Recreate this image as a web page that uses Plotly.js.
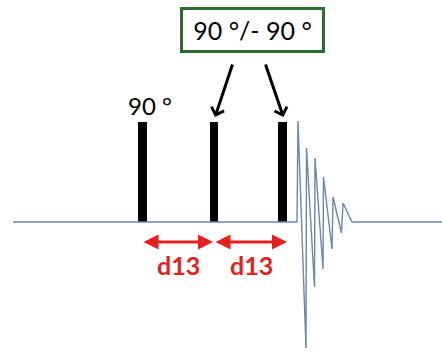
<!DOCTYPE html>
<html>
<head>
<meta charset="utf-8">
<script src="https://cdn.plot.ly/plotly-3.0.1.min.js"></script>
<style>html,body{margin:0;padding:0;background:#fff;}#chart{width:442px;height:353px;}</style>
</head>
<body>
<div id="chart"></div>
<script>
// Pulse sequence data (time in arbitrary units, amplitude normalised)
const pulseTimes = [142.5, 214, 282.5];
const pulseAmps = [1.0, 1.0, 1.0];
const pulseLabels = ["90 °", "90 °/- 90 °"];

// Baseline + FID signal
const timeAxis = [13, 297, 298, 306, 306.5, 314.5, 315, 323, 323.5, 332, 333, 341.5, 343, 352, 442];
const signal   = [0, 0, 1.01, -1.26, 0.74, -0.65, 0.64, -0.47, 0.45, -0.27, 0.25, -0.11, 0.19, 0, 0];

// Delays
const delayStarts = [142, 214];
const delayEnds = [213, 287];
const delayLabels = ["d13", "d13"];

const red = '#e4211c';
const font = 'Lato, "Open Sans", sans-serif';

const traces = [
  {
    type: 'scatter', mode: 'lines', x: timeAxis, y: signal,
    line: {color: '#6c88ab', width: 1.4}, hoverinfo: 'skip'
  },
  {
    type: 'bar', x: pulseTimes, y: pulseAmps, width: 8.5,
    marker: {color: '#000000', line: {width: 0}}, hoverinfo: 'skip'
  }
];

const annotations = [];
// first pulse label
annotations.push({
  x: pulseTimes[0] + 7.5, y: 1.17, xref: 'x', yref: 'y', text: pulseLabels[0],
  showarrow: false, xanchor: 'center', yanchor: 'middle',
  font: {family: font, size: 24, color: '#000'}
});
// boxed label
annotations.push({
  x: 252.5, y: 1.92, xref: 'x', yref: 'y', text: pulseLabels[1],
  showarrow: false, xanchor: 'center', yanchor: 'middle',
  font: {family: font, size: 25, color: '#000'},
  bordercolor: '#2f6b2f', borderwidth: 3, borderpad: 0,
  width: 139, height: 40, bgcolor: '#ffffff'
});
// black arrows pointing to pulses 2 and 3
const arrowTails = [233, 265];
[1, 2].forEach((k, i) => {
  annotations.push({
    x: pulseTimes[k] + 1, y: 1.05, xref: 'x', yref: 'y',
    ax: arrowTails[i], ay: 1.59, axref: 'x', ayref: 'y',
    text: '', showarrow: true, arrowhead: 4, arrowsize: 0.85,
    arrowwidth: 3, arrowcolor: '#000'
  });
});
// red double arrows and delay labels
for (let i = 0; i < delayStarts.length; i++) {
  annotations.push({
    x: delayEnds[i], y: -0.2, xref: 'x', yref: 'y',
    ax: delayStarts[i], ay: -0.2, axref: 'x', ayref: 'y',
    text: '', showarrow: true, arrowhead: 2, startarrowhead: 2,
    arrowside: 'end+start', arrowsize: 1.0, startarrowsize: 1.0,
    arrowwidth: 3, arrowcolor: red
  });
  annotations.push({
    x: (delayStarts[i] + delayEnds[i]) / 2 + 1, y: -0.43, xref: 'x', yref: 'y',
    text: '<b>' + delayLabels[i] + '</b>', showarrow: false,
    xanchor: 'center', yanchor: 'middle',
    font: {family: font, size: 25, color: red}
  });
}

const layout = {
  width: 442, height: 353,
  margin: {l: 0, r: 0, t: 0, b: 0, pad: 0},
  paper_bgcolor: '#ffffff', plot_bgcolor: '#ffffff',
  showlegend: false,
  xaxis: {range: [0, 442], visible: false, showgrid: false, zeroline: false, fixedrange: true},
  yaxis: {range: [-1.31, 2.22], visible: false, showgrid: false, zeroline: false, fixedrange: true},
  annotations: annotations,
  bargap: 0
};

Plotly.newPlot('chart', traces, layout, {displayModeBar: false, staticPlot: true});
</script>
</body>
</html>
